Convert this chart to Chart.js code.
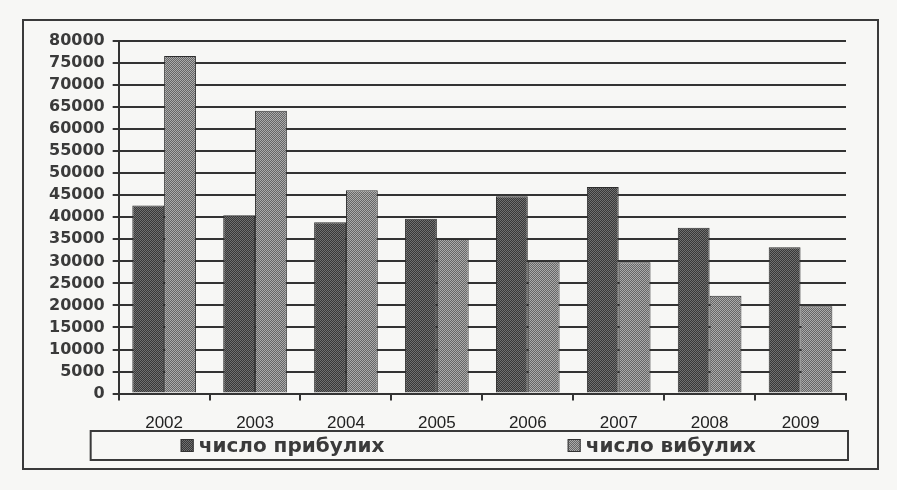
<!DOCTYPE html>
<html><head><meta charset="utf-8">
<script src="https://cdn.jsdelivr.net/npm/chart.js@4/dist/chart.umd.min.js"></script>
<style>html,body{margin:0;padding:0;background:#f7f7f5;} canvas{display:block;}</style>
</head><body>
<canvas id="c" width="897" height="490"></canvas>
<script>
const categories = ['2002','2003','2004','2005','2006','2007','2008','2009'];
const arrivals = [42650, 40450, 38900, 39650, 44800, 46850, 37650, 33200];
const departures = [76600, 64200, 46150, 35100, 29950, 29800, 22200, 19800];
const seriesLabels = ['число прибулих','число вибулих'];
const yMin = 0, yMax = 80000, yStep = 5000;

function makePattern(c1, c2){
  const t = document.createElement('canvas'); t.width = 2; t.height = 2;
  const g = t.getContext('2d');
  g.fillStyle = c1; g.fillRect(0,0,2,2);
  g.fillStyle = c2; g.fillRect(0,0,1,1); g.fillRect(1,1,1,1);
  return document.getElementById('c').getContext('2d').createPattern(t,'repeat');
}
const darkFill = makePattern('#383838', '#707070');
const lightFill = makePattern('#666666', '#ababab');

const framePlugin = {
  id: 'frame',
  beforeDraw(chart){
    const ctx = chart.ctx;
    ctx.save();
    ctx.fillStyle = '#f7f7f5'; ctx.fillRect(0,0,chart.width,chart.height);
    ctx.restore();
  },
  afterDraw(chart){
    const {ctx, chartArea:a} = chart;
    ctx.save();
    ctx.strokeStyle = '#3a3a3a'; ctx.lineWidth = 2;
    ctx.strokeRect(23, 20, 855, 449);
    const lx = a.left - 28, lw = a.right + 2 - lx, ly = 431, lh = 29;
    ctx.strokeRect(lx, ly, lw, lh);
    const cy = ly + lh/2;
    const items = [a.left + 62, a.left + 449];
    ctx.font = 'bold 20px "DejaVu Sans"';
    ctx.textBaseline = 'middle'; ctx.textAlign = 'left';
    chart.data.datasets.forEach((ds,i)=>{
      const x = items[i];
      ctx.fillStyle = ds.backgroundColor; ctx.fillRect(x, cy-6.5, 13, 13);
      ctx.lineWidth = 1; ctx.strokeStyle = '#333'; ctx.strokeRect(x+0.5, cy-6, 12, 12);
      ctx.fillStyle = '#3a3a3a'; ctx.fillText(ds.label, x+18, cy+1);
    });
    ctx.restore();
  }
};

new Chart(document.getElementById('c'), {
  type:'bar',
  data:{labels:categories, datasets:[
    {label:seriesLabels[0], data:arrivals, backgroundColor:darkFill, borderColor:'#2e2e2e', borderWidth:1},
    {label:seriesLabels[1], data:departures, backgroundColor:lightFill, borderColor:'#2e2e2e', borderWidth:1}]},
  options:{
    responsive:false, animation:false, devicePixelRatio:1,
    layout:{padding:{left:41, right:51, top:41, bottom:43}},
    datasets:{bar:{categoryPercentage:0.7, barPercentage:1}},
    plugins:{legend:{display:false}, tooltip:{enabled:false}},
    scales:{
      x:{grid:{offset:true, drawOnChartArea:false, tickLength:7, color:'#333', lineWidth:2},
         border:{color:'#333', width:2},
         ticks:{font:{family:'Liberation Sans', size:17}, color:'#222', padding:13}},
      y:{min:yMin, max:yMax,
         ticks:{stepSize:yStep, autoSkip:false, callback:v=>String(v), font:{family:'DejaVu Sans', size:16, weight:'bold'}, color:'#3a3a3a', padding:8},
         grid:{color:'#333', lineWidth:2, tickLength:6},
         border:{color:'#333', width:2}}
    }
  },
  plugins:[framePlugin]
});
</script>
</body></html>
